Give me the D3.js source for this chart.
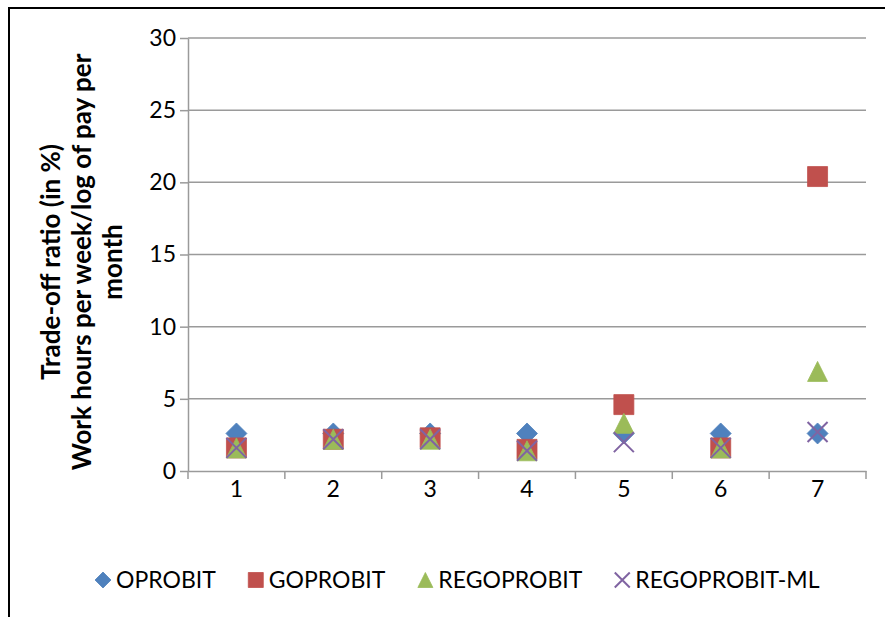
<!DOCTYPE html>
<html>
<head>
<meta charset="utf-8">
<script src="https://cdn.jsdelivr.net/npm/d3@7"></script>
<style>
  html, body { margin: 0; padding: 0; background: #fff; }
  svg { display: block; }
  text { font-family: Lato, "Liberation Sans", sans-serif; }
</style>
</head>
<body>
<svg id="chart" width="885" height="617"></svg>
<script>
const categories = ["1", "2", "3", "4", "5", "6", "7"];
const seriesNames = ["OPROBIT", "GOPROBIT", "REGOPROBIT", "REGOPROBIT-ML"];
const oprobit = [2.6, 2.6, 2.6, 2.6, 2.6, 2.6, 2.6];
const goprobit = [1.6, 2.2, 2.3, 1.5, 4.6, 1.6, 20.4];
const regoprobit = [1.6, 2.2, 2.2, 1.4, 3.3, 1.6, 6.9];
const regoprobitMl = [1.6, 2.2, 2.2, 1.4, 2.0, 1.6, 2.7];
const yTicks = [0, 5, 10, 15, 20, 25, 30];
const titleLines = ["Trade-off ratio (in %)", "Work hours per week/log of pay per", "month"];

const colors = ["#4F81BD", "#C0504D", "#9BBB59", "#8064A2"];
const seriesValues = [oprobit, goprobit, regoprobit, regoprobitMl];

const svg = d3.select("#chart");

// outer chart border (cropped at right and bottom in the reference)
svg.append("rect")
  .attr("x", 9).attr("y", 8).attr("width", 920).attr("height", 700)
  .attr("fill", "none").attr("stroke", "#000").attr("stroke-width", 2);

const plot = { left: 188, right: 866, top: 38, bottom: 471 };

const x = d3.scaleBand().domain(categories).range([plot.left, plot.right]);
const y = d3.scaleLinear().domain([0, 30]).range([plot.bottom, plot.top]);

// gridlines
svg.append("g").selectAll("line").data(yTicks.filter(d => d > 0)).join("line")
  .attr("x1", plot.left).attr("x2", plot.right)
  .attr("y1", d => y(d)).attr("y2", d => y(d))
  .attr("stroke", "#9a9a9a").attr("stroke-width", 1.5);

// y axis
const yAxis = svg.append("g")
  .attr("transform", `translate(${plot.left},0)`)
  .call(d3.axisLeft(y).tickValues(yTicks).tickSize(8).tickSizeOuter(0).tickPadding(4).tickFormat(d3.format("d")));
yAxis.select(".domain").attr("stroke", "#9a9a9a").attr("stroke-width", 1.5);
yAxis.selectAll(".tick line").attr("stroke", "#9a9a9a").attr("stroke-width", 1.5);
yAxis.selectAll(".tick text").attr("font-size", 23).attr("fill", "#000")
  .style("font-family", "Lato, sans-serif");

// x axis
const xAxis = svg.append("g")
  .attr("transform", `translate(0,${plot.bottom})`)
  .call(d3.axisBottom(x).tickSize(0).tickSizeOuter(0).tickPadding(10));
xAxis.select(".domain").attr("stroke", "#9a9a9a").attr("stroke-width", 1.5);
xAxis.selectAll(".tick text").attr("font-size", 23).attr("fill", "#000")
  .style("font-family", "Lato, sans-serif");
// boundary tick marks between categories
const bounds = categories.map(c => x(c)).concat([x(categories[categories.length - 1]) + x.bandwidth()]);
svg.append("g").selectAll("line").data(bounds).join("line")
  .attr("x1", d => d).attr("x2", d => d)
  .attr("y1", plot.bottom).attr("y2", plot.bottom + 8)
  .attr("stroke", "#9a9a9a").attr("stroke-width", 1.5);

// custom symbols (size = width in px)
const diamond = { draw(ctx, s) { const h = s / 2; ctx.moveTo(0, -h); ctx.lineTo(h, 0); ctx.lineTo(0, h); ctx.lineTo(-h, 0); ctx.closePath(); } };
const square = { draw(ctx, s) { const h = s / 2; ctx.rect(-h, -h, s, s); } };
const triangle = { draw(ctx, s) { const h = s / 2; ctx.moveTo(0, -h); ctx.lineTo(h, h); ctx.lineTo(-h, h); ctx.closePath(); } };
const cross = { draw(ctx, s) { const h = s / 2; ctx.moveTo(-h, -h); ctx.lineTo(h, h); ctx.moveTo(h, -h); ctx.lineTo(-h, h); } };
const symbolTypes = [diamond, square, triangle, cross];
const plotSizes = [21, 20, 20, 20];
const legendSizes = [16, 15, 15, 15];

function styleMarker(sel, i) {
  if (i === 3) {
    sel.attr("fill", "none").attr("stroke", colors[i]).attr("stroke-width", 2);
  } else {
    sel.attr("fill", colors[i]).attr("stroke", colors[i]).attr("stroke-width", 0.8);
  }
}

seriesValues.forEach((vals, i) => {
  const g = svg.append("g");
  g.selectAll("path").data(vals).join("path")
    .attr("d", d3.symbol().type(symbolTypes[i]).size(plotSizes[i]))
    .attr("transform", (d, j) => `translate(${x(categories[j]) + x.bandwidth() / 2},${y(d)})`)
    .call(styleMarker, i);
});

// y axis title (rotated, three centered lines)
const titleCx = 82, titleCy = 262, lineGap = 31;
const title = svg.append("text")
  .attr("transform", `translate(${titleCx},${titleCy}) rotate(-90)`)
  .attr("text-anchor", "middle")
  .attr("font-size", 26).attr("font-weight", "bold").attr("fill", "#000");
titleLines.forEach((t, k) => {
  title.append("tspan").attr("x", 0)
    .attr("y", (k - 1) * lineGap + 9)
    .text(t);
});

// legend
const legendY = 580;
let lx = 103;
seriesNames.forEach((name, i) => {
  const g = svg.append("g");
  g.append("path")
    .attr("d", d3.symbol().type(symbolTypes[i]).size(legendSizes[i]))
    .attr("transform", `translate(${lx},${legendY})`)
    .call(styleMarker, i);
  const t = g.append("text")
    .attr("x", lx + 13).attr("y", legendY + 8)
    .attr("font-size", 23).attr("fill", "#000")
    .text(name);
  const w = t.node().getComputedTextLength();
  lx = lx + 13 + w + 40;
});
</script>
</body>
</html>
